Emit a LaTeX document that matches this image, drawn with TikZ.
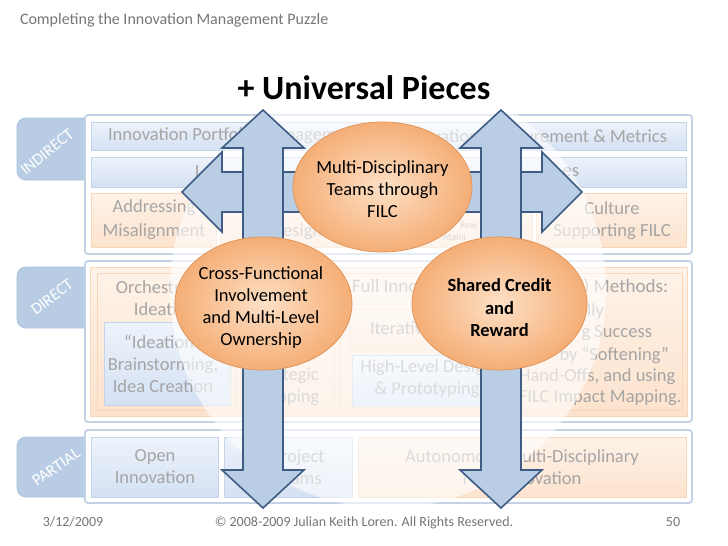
\documentclass[tikz,border=0pt]{standalone}
\usepackage{fontspec}
\setmainfont{Carlito}
\usetikzlibrary{shapes.geometric,shadings}
\definecolor{bgtext}{RGB}{165,165,165}
\definecolor{headgray}{RGB}{118,118,118}
\definecolor{tabblue}{RGB}{184,204,228}
\definecolor{tabedge}{RGB}{172,194,222}
\definecolor{framec}{RGB}{196,210,229}
\definecolor{bluetop}{RGB}{238,243,251}
\definecolor{bluebot}{RGB}{212,225,243}
\definecolor{blueborder}{RGB}{196,212,232}
\definecolor{ortop}{RGB}{254,242,232}
\definecolor{orbot}{RGB}{252,227,206}
\definecolor{orborder}{RGB}{250,214,184}
\definecolor{arrowfill}{RGB}{185,205,229}
\definecolor{arrowline}{RGB}{62,92,132}
\definecolor{ellin}{RGB}{253,224,198}
\definecolor{ellout}{RGB}{245,174,118}
\definecolor{ellborder}{RGB}{222,150,92}
\tikzset{
  tabshape/.style={fill=tabblue, draw=tabedge, line width=0.8pt, rounded corners=9pt},
  tablabel/.style={text=white, font=\fontsize{16.5}{19}\selectfont},
  framebox/.style={draw=framec, line width=1.8pt, fill=white, rounded corners=3pt},
  bluebox/.style={draw=blueborder, top color=bluetop, bottom color=bluebot, line width=0.8pt},
  orangebox/.style={draw=orborder, top color=ortop, bottom color=orbot, line width=0.8pt},
  bgt/.style={text=bgtext, font=\fontsize{18.5}{22}\selectfont, align=center},
  smallt/.style={text=bgtext, font=\fontsize{10}{12}\selectfont},
  bigarrow/.style={fill=arrowfill, draw=arrowline, line width=1.6pt, line join=miter},
  piece/.style={ellipse, draw=ellborder, inner color=ellin, outer color=ellout, line width=0.8pt},
  piecetext/.style={font=\fontsize{18.5}{22}\selectfont, align=center, text=black},
  foot/.style={text=headgray, font=\fontsize{14}{16}\selectfont, anchor=base}
}
\begin{document}
\begin{tikzpicture}[x=1pt,y=-1pt, every node/.style={inner sep=0pt, outer sep=0pt}]
\useasboundingbox (0,0) rectangle (728,546);
\fill[white] (0,0) rectangle (728,546);

\node[anchor=west, text=headgray, font=\fontsize{16}{19}\selectfont] (head) at (20,20) {Completing the Innovation Management Puzzle};

% tabs
\path[tabshape] (17,118) rectangle (100,180);
\path[tabshape] (17,267) rectangle (100,328);
\path[tabshape] (17,437) rectangle (100,497);
\node[tablabel, rotate=39] (tabI) at (47,152) {INDIRECT};
\node[tablabel, rotate=37] (tabD) at (52,297) {DIRECT};
\node[tablabel, rotate=35] (tabP) at (56,467) {PARTIAL};

% frames
\path[framebox] (85,115) rectangle (692,254);
\path[framebox] (85,261) rectangle (692,422);
\path[framebox] (85,430) rectangle (692,503);

% INDIRECT rows
\path[bluebox] (91,122) rectangle (380,150);
\path[bluebox] (384,122) rectangle (686,150);
\path[bluebox] (91,157) rectangle (686,187);
\path[orangebox] (91,193) rectangle (216,247);
\path[orangebox] (220,193) rectangle (374,247);
\path[orangebox] (378,193) rectangle (532,247);
\path[orangebox] (536,193) rectangle (686,247);
\node[bgt, anchor=west] (r1a) at (108,136) {Innovation Portfolio Management};
\node[bgt, anchor=east] (r1b) at (667,136) {Innovation Measurement \& Metrics};
\node[bgt, anchor=west] (r2a) at (195,172) {L};
\node[bgt, anchor=east] (r2b) at (579,172) {es};
\node[bgt, font=\fontsize{18.5}{24}\selectfont] (r3a) at (154,220) {Addressing\\Misalignment};
\node[bgt] (r3b) at (297,232) {Design};
\node[smallt, anchor=west] (r3c) at (460,225) {Rew};
\node[smallt, anchor=west] (r3d) at (443,237) {ntaini};
\node[bgt] (r3e) at (612,221) {Culture\\Supporting FILC};

% DIRECT
\path[orangebox] (90,267) rectangle (687,416);
\path[orangebox] (97,273) rectangle (236,410);
\path[bluebox] (104,322) rectangle (230,405);
\path[orangebox] (240,273) rectangle (334,410);
\path[orangebox] (340,273) rectangle (682,410);
\path[orangebox] (349,309) rectangle (510,350);
\path[bluebox] (352,355) rectangle (505,406);
\node[bgt] (d1) at (165,298) {Orchestrated\\Ideation};
\node[bgt] (d2) at (163,364) {“Ideation”\\Brainstorming,\\Idea Creation};
\node[bgt] (d3) at (286,387) {Strategic\\Mapping};
\node[bgt, anchor=west, font=\fontsize{19}{22}\selectfont] (d4) at (352,287) {Full Innovation Life Cycle (FILC) Methods:};
\node[bgt, anchor=west] (d5) at (370,328) {Iterative};
\node[bgt] (d6) at (427,379) {High-Level Design\\\& Prototyping};
\node[bgt, anchor=east] (d7) at (604,312) {lly};
\node[bgt, anchor=east] (d8) at (652,333) {g Success};
\node[bgt, anchor=east] (d9) at (669,355) {by “Softening”};
\node[bgt, anchor=west] (d10) at (519,377) {Hand-Offs, and using};
\node[bgt, anchor=west] (d11) at (519,398) {FILC Impact Mapping.};

% PARTIAL
\path[bluebox] (91,437) rectangle (218,497);
\path[bluebox] (224,437) rectangle (352,497);
\path[orangebox] (358,437) rectangle (686,497);
\node[bgt] (p1) at (155,467) {Open\\Innovation};
\node[bgt] (p2) at (298,467) {Project\\Teams};
\node[bgt] (p3) at (522,467) {Autonomous Multi-Disciplinary\\New Innovation};

% white veil
\fill[white, opacity=0.6] (388,290) circle (218pt);

% title
\node[font=\bfseries\fontsize{34}{39}\selectfont, text=black] (title) at (364,88) {+ Universal Pieces};

% arrows
\path[bigarrow] (182,192) -- (222,152) -- (222,172) -- (542,172) -- (542,152) -- (582,192)
  -- (542,232) -- (542,212) -- (222,212) -- (222,232) -- cycle;
\path[bigarrow] (263,110) -- (304,148) -- (283,148) -- (283,470) -- (304,470) -- (263,508)
  -- (222,470) -- (243,470) -- (243,148) -- (222,148) -- cycle;
\path[bigarrow] (501,110) -- (542,148) -- (521,148) -- (521,470) -- (542,470) -- (501,508)
  -- (460,470) -- (481,470) -- (481,148) -- (460,148) -- cycle;

% universal pieces
\node[piece, minimum width=179pt, minimum height=130pt] (mdt) at (382.5,187) {};
\node[piecetext] (mdtt) at (382.5,189) {Multi-Disciplinary\\Teams through\\FILC};
\node[piece, minimum width=177pt, minimum height=133pt] (cfi) at (263.5,303.5) {};
\node[piecetext] (cfit) at (261,308) {Cross-Functional\\Involvement\\and Multi-Level\\Ownership};
\node[piece, minimum width=175pt, minimum height=133pt] (scr) at (499.5,303.5) {};
\node[piecetext, font=\bfseries\fontsize{18.5}{22.5}\selectfont] (scrt) at (499.5,308) {Shared Credit\\and\\Reward};

% footer
\node[foot] (date) at (73,526) {3/12/2009};
\node[foot] (copy) at (364,526) {© 2008-2009 Julian Keith Loren. All Rights Reserved.};
\node[foot] (page) at (673,526) {50};
\end{tikzpicture}
\end{document}
